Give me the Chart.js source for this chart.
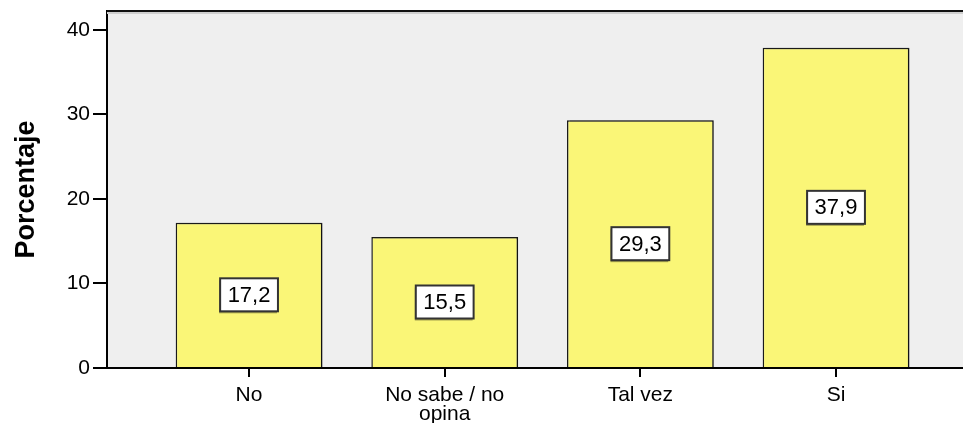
<!DOCTYPE html>
<html><head><meta charset="utf-8">
<script src="https://cdn.jsdelivr.net/npm/chart.js@4.4.0/dist/chart.umd.min.js"></script>
<style>html,body{margin:0;padding:0;background:#fff;overflow:hidden}canvas{display:block}</style>
</head><body>
<canvas id="c" width="963" height="423"></canvas>
<script>
const categories = ['No', ['No sabe / no', 'opina'], 'Tal vez', 'Si'];
const percentages = [17.2, 15.5, 29.3, 37.9];
const yTicks = [0, 10, 20, 30, 40];
const yAxisTitle = 'Porcentaje';

const FONT = '"Liberation Sans", Arial, sans-serif';

const plotBg = {
  id: 'plotBg',
  beforeDraw(chart) {
    const {ctx, chartArea: a} = chart;
    ctx.save();
    ctx.fillStyle = '#efefef';
    ctx.fillRect(a.left, a.top, a.right - a.left, a.bottom - a.top);
    ctx.restore();
  },
  afterDraw(chart) {
    const {ctx, chartArea: a} = chart;
    ctx.save();
    ctx.fillStyle = '#cfcfcf';
    ctx.fillRect(a.left, a.top + 1, a.right - a.left, 2);
    ctx.strokeStyle = '#111';
    ctx.lineWidth = 2;
    ctx.beginPath();
    ctx.moveTo(a.left, a.top);
    ctx.lineTo(a.right, a.top);
    ctx.stroke();
    ctx.restore();
  }
};

const barShadow = {
  id: 'barShadow',
  beforeDatasetDraw(chart) {
    const ctx = chart.ctx;
    ctx.save();
    ctx.shadowColor = 'rgba(0,0,0,0.3)';
    ctx.shadowOffsetX = 3;
    ctx.shadowOffsetY = 0;
    ctx.shadowBlur = 0;
  },
  afterDatasetDraw(chart) {
    chart.ctx.restore();
  }
};

const valueLabels = {
  id: 'valueLabels',
  afterDatasetsDraw(chart) {
    const ctx = chart.ctx;
    const meta = chart.getDatasetMeta(0);
    ctx.save();
    ctx.font = '22px ' + FONT;
    ctx.textAlign = 'center';
    ctx.textBaseline = 'middle';
    meta.data.forEach((bar, i) => {
      const txt = percentages[i].toFixed(1).replace('.', ',');
      const cx = bar.x;
      const cy = (bar.y + bar.base) / 2;
      const w = ctx.measureText(txt).width + 15;
      const h = 33;
      ctx.fillStyle = 'rgba(0,0,0,0.35)';
      ctx.fillRect(cx - w / 2 - 1, cy - h / 2 + 2, w, h);
      ctx.fillStyle = '#fff';
      ctx.fillRect(cx - w / 2, cy - h / 2, w, h);
      ctx.strokeStyle = '#333';
      ctx.lineWidth = 2;
      ctx.strokeRect(cx - w / 2, cy - h / 2, w, h);
      ctx.fillStyle = '#000';
      ctx.fillText(txt, cx, cy + 1);
    });
    ctx.restore();
  }
};

new Chart(document.getElementById('c'), {
  type: 'bar',
  data: {
    datasets: [{
      data: percentages.map((v, i) => ({x: i, y: v})),
      backgroundColor: '#faf677',
      borderColor: '#1a1a1a',
      borderWidth: 1.5,
      categoryPercentage: 1,
      barPercentage: 0.75
    }]
  },
  options: {
    responsive: false,
    animation: false,
    devicePixelRatio: 1,
    layout: {padding: {top: 11, right: 0, left: 0, bottom: 0}},
    plugins: {legend: {display: false}, tooltip: {enabled: false}, title: {display: false}},
    scales: {
      x: {
        type: 'linear',
        offset: false,
        min: -0.726,
        max: 3.649,
        afterBuildTicks: s => { s.ticks = categories.map((_, i) => ({value: i})); },
        ticks: {
          callback: v => categories[v],
          color: '#000',
          font: {family: FONT, size: 21, lineHeight: 0.9},
          padding: 9,
          maxRotation: 0,
          autoSkip: false
        },
        grid: {offset: false, drawOnChartArea: false, tickLength: 9, color: '#000', lineWidth: 2},
        border: {color: '#000', width: 2},
        afterFit: s => { s.height = 55; s.paddingLeft = 0; s.paddingRight = 0; }
      },
      y: {
        min: 0,
        max: 42.24,
        afterBuildTicks: s => { s.ticks = yTicks.map(v => ({value: v})); },
        ticks: {color: '#000', font: {family: FONT, size: 21}, padding: 3},
        grid: {drawOnChartArea: false, tickLength: 14, color: '#000', lineWidth: 2},
        border: {color: '#000', width: 2},
        title: {display: true, text: yAxisTitle, color: '#000',
                font: {family: FONT, size: 27, weight: 'bold'}, padding: {top: 10, bottom: 0}},
        afterFit: s => { s.width = 107; s.paddingTop = 0; s.paddingBottom = 0; }
      }
    }
  },
  plugins: [plotBg, barShadow, valueLabels]
});
</script>
</body></html>
